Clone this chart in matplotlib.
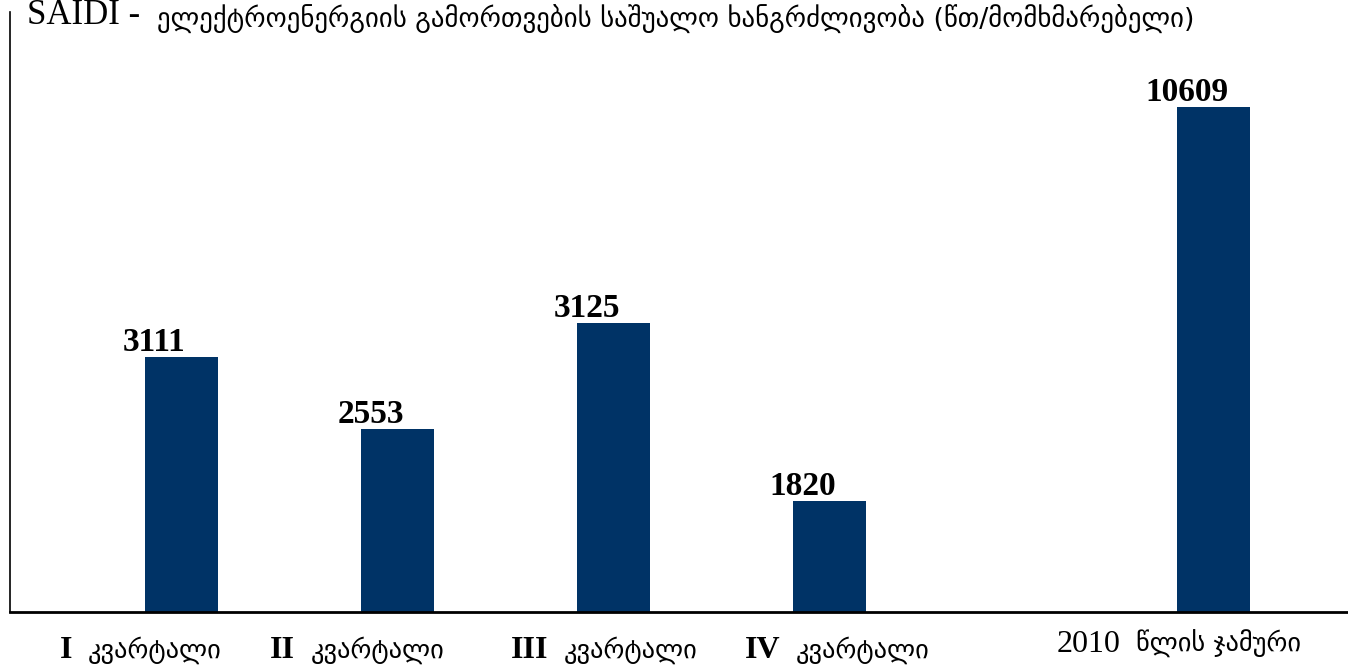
import matplotlib
matplotlib.use("Agg")
import matplotlib.pyplot as plt
from matplotlib.transforms import blended_transform_factory

# ---- data ----
numerals = ["I", "II", "III", "IV", "2010"]
category_words = ["კვარტალი", "კვარტალი", "კვარტალი", "კვარტალი", "წლის ჯამური"]
value_labels = [3111, 2553, 3125, 1820, 10609]          # numbers printed above bars
bar_heights = [5357, 3844, 6071, 2332, 10609]            # drawn bar heights (as in picture)
title_latin = "SAIDI - "
title_geo = "ელექტროენერგიის გამორთვების საშუალო ხანგრძლივობა (წთ/მომხმარებელი)"

BAR_COLOR = "#003366"
SERIF = ["Liberation Serif", "DejaVu Serif", "DejaVu Sans"]
GEO = ["DejaVu Sans", "DejaVu Serif"]

fig = plt.figure(figsize=(13.48, 6.70), dpi=100)
W, H = 1348, 670
AX_TOP, AX_BOT = 12, 612
ax = fig.add_axes([10 / W, 1 - AX_BOT / H, (W - 10) / W, (AX_BOT - AX_TOP) / H])

x = [0, 1, 2, 3, 4.778]
ax.bar(x, bar_heights, width=0.338, color=BAR_COLOR, zorder=2)

ax.set_xlim(-0.794, 5.40)
ax.set_ylim(0, (AX_BOT - AX_TOP) * max(bar_heights) / 505)
ax.set_xticks([])
ax.set_yticks([])
for s in ["top", "right"]:
    ax.spines[s].set_visible(False)
ax.spines["left"].set_linewidth(1.2)
ax.spines["bottom"].set_linewidth(2.0)

for xi, h, lab in zip(x, bar_heights, value_labels):
    ax.annotate(str(lab), (xi, h), xytext=(-27, 6), textcoords="offset pixels",
                ha="center", va="baseline", fontsize=24, fontweight="bold",
                family=SERIF)

# category labels: numeral + Georgian word
num_shift = [-0.507, -0.475, -0.303, -0.229, -0.433]
baselines = [658, 658, 658, 658, 652]
trans = blended_transform_factory(ax.transData, fig.transFigure)
for xi, sh, yb, num, word in zip(x, num_shift, baselines, numerals, category_words):
    bold = num != "2010"
    ax.text(xi + sh, 1 - yb / H, num, transform=trans, ha="right", va="baseline",
            fontsize=23, fontweight="bold" if bold else "normal", family=SERIF)
    ax.text(xi + sh + 0.072, 1 - yb / H, word, transform=trans, ha="left", va="baseline",
            fontsize=19, family=GEO)

fig.text(27 / W, 1 - 24 / H, title_latin, ha="left", va="baseline", fontsize=25, family=SERIF)
fig.text(157 / W, 1 - 28 / H, title_geo, ha="left", va="baseline", fontsize=19.4, family=GEO)

fig.savefig("out.png", dpi=100)
